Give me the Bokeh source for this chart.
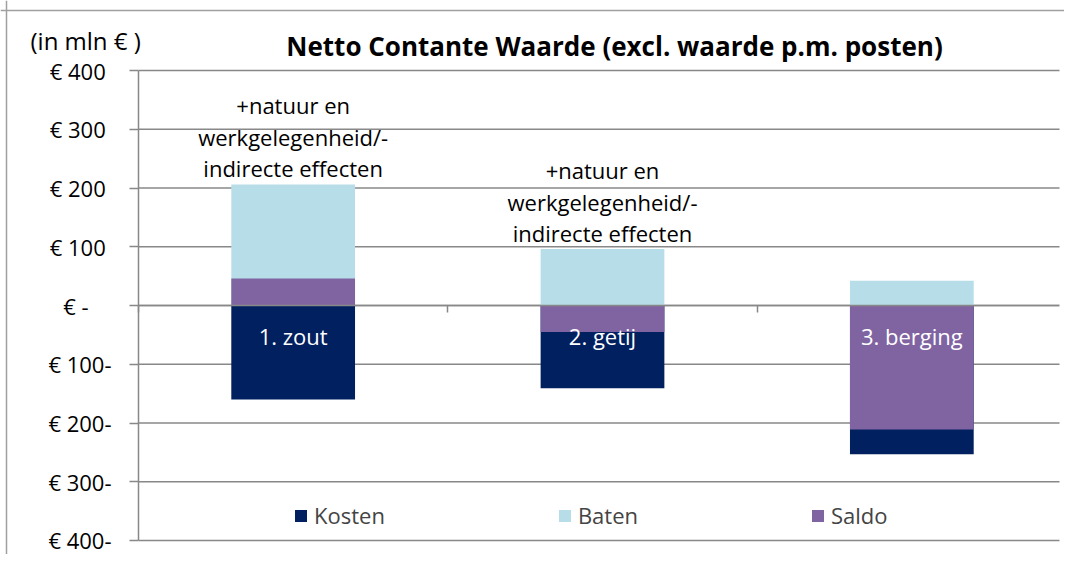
from bokeh.plotting import figure
from bokeh.models import (ColumnDataSource, Range1d, FixedTicker, Legend, LegendItem, Label, Span,
                          BoxAnnotation)
from bokeh.core.properties import value
from bokeh.embed import file_html
from bokeh.resources import INLINE

# ---- data ----
categories = ["1. zout", "2. getij", "3. berging"]
kosten = [-160, -141, -253]
baten = [206, 96, 42]
saldo = [46, -45, -211]
annotations = ["+natuur en\nwerkgelegenheid/-\nindirecte effecten",
               "+natuur en\nwerkgelegenheid/-\nindirecte effecten",
               ""]
y_ticks = [400, 300, 200, 100, 0, -100, -200, -300, -400]
y_tick_labels = ["€ 400\u00a0", "€ 300\u00a0", "€ 200\u00a0", "€ 100\u00a0", "€ -\u00a0\u00a0\u00a0\u00a0",
                 "€ 100-", "€ 200-", "€ 300-", "€ 400-"]
series_names = ["Kosten", "Baten", "Saldo"]
colors = ["#002060", "#B7DEE8", "#8064A2"]
title_text = "Netto Contante Waarde (excl. waarde p.m. posten)"
unit_text = "(in mln € )"

# ---- layout (pixels) ----
FONT = "Open Sans"
W, H = 1064, 554
PX_LEFT, PX_RIGHT, PX_TOP, PX_BOTTOM = 138, 1066, 70, 540
GRID = "#888888"
BORDER = "#a0a0a0"

n = len(categories)
ymin, ymax = min(y_ticks), max(y_ticks)
ppx = (PX_RIGHT - PX_LEFT) / n
ppy = (PX_BOTTOM - PX_TOP) / (ymax - ymin)
x_range = Range1d(-PX_LEFT / ppx, (W - PX_LEFT) / ppx)
y_range = Range1d(ymin - (H - PX_BOTTOM) / ppy, ymax + PX_TOP / ppy)

xs = [i + 0.5 for i in range(n)]
src = ColumnDataSource(dict(x=xs, cat=categories, kosten=kosten, baten=baten,
                            saldo=saldo, note=annotations))
grid_src = ColumnDataSource(dict(y=y_ticks, x0=[0] * len(y_ticks), x1=[n] * len(y_ticks)))

p = figure(width=W, height=H, output_backend="svg", toolbar_location=None,
           title_location=None, x_range=x_range, y_range=y_range,
           min_border_left=0, min_border_right=0, min_border_top=0, min_border_bottom=0)
p.outline_line_color = None
p.xgrid.grid_line_color = None
p.ygrid.grid_line_color = None

# horizontal gridlines (under the bars)
p.segment(x0="x0", x1="x1", y0="y", y1="y", source=grid_src,
          line_color=GRID, line_width=1.5)

# bars (overlapping, Saldo on top)
r_k = p.vbar(x="x", top="kosten", bottom=0, width=0.4, source=src,
             fill_color=colors[0], line_color=None)
r_b = p.vbar(x="x", top="baten", bottom=0, width=0.4, source=src,
             fill_color=colors[1], line_color=None)
r_s = p.vbar(x="x", top="saldo", bottom=0, width=0.4, source=src,
             fill_color=colors[2], line_color=None)

# category labels inside bars
p.text(x="x", y=0, text="cat", source=src, text_color="white",
       text_font=value(FONT), text_font_size="22px", text_align="center",
       text_baseline="middle", y_offset=30)
# notes above bars
p.text(x="x", y="baten", text="note", source=src, text_color="black",
       text_font=value(FONT), text_font_size="22px", text_align="center",
       text_baseline="bottom", y_offset=-1, text_line_height=1.05)

# y axis (drawn at x = 0)
p.yaxis.fixed_location = 0
p.yaxis.bounds = (ymin, ymax)
p.yaxis.ticker = FixedTicker(ticks=y_ticks)
p.yaxis.major_label_overrides = {t: l for t, l in zip(y_ticks, y_tick_labels)}
p.yaxis.major_label_text_font = FONT
p.yaxis.major_label_text_font_size = "22px"
p.yaxis.major_label_text_color = "black"
p.yaxis.major_tick_out = 9
p.yaxis.major_tick_in = 0
p.yaxis.minor_tick_line_color = None
p.yaxis.axis_line_color = GRID
p.yaxis.axis_line_width = 1.5
p.yaxis.major_tick_line_color = GRID
p.yaxis.major_tick_line_width = 1.5
p.yaxis.major_label_standoff = 18

# x axis at zero with category boundary ticks
p.xaxis.fixed_location = 0
p.xaxis.bounds = (0, n)
p.xaxis.ticker = FixedTicker(ticks=list(range(n + 1)))
p.xaxis.major_label_text_font_size = "0px"
p.xaxis.major_label_text_color = None
p.xaxis.major_tick_out = 7
p.xaxis.major_tick_in = 0
p.xaxis.minor_tick_line_color = None
p.xaxis.axis_line_color = GRID
p.xaxis.axis_line_width = 1.5
p.xaxis.major_tick_line_color = GRID
p.xaxis.major_tick_line_width = 1.5

# white strip at the far right edge of the canvas (hides a stray edge line)
p.add_layout(BoxAnnotation(left=W - 5, right=W, top=H - 12, bottom=0,
                           left_units="screen", right_units="screen",
                           top_units="screen", bottom_units="screen",
                           fill_color="white", fill_alpha=1, line_color=None,
                           level="overlay"))

# chart border: left and top edges
p.add_layout(Span(location=6, location_units="screen", dimension="height",
                  line_color=BORDER, line_width=1.5, level="overlay"))
p.add_layout(Span(location=H - 10, location_units="screen", dimension="width",
                  line_color=BORDER, line_width=1.5, level="overlay"))

# title and unit label
p.add_layout(Label(x=614, y=H - 45, x_units="screen", y_units="screen",
                   text=title_text, text_font=FONT, text_font_size="26px",
                   text_font_style="bold", text_color="black",
                   text_align="center", text_baseline="middle"))
p.add_layout(Label(x=30, y=H - 40, x_units="screen", y_units="screen",
                   text=unit_text, text_font=FONT, text_font_size="24px",
                   text_color="black", text_align="left", text_baseline="middle"))

# legend
legend = Legend(items=[LegendItem(label=series_names[0], renderers=[r_k]),
                       LegendItem(label=series_names[1], renderers=[r_b]),
                       LegendItem(label=series_names[2], renderers=[r_s])],
                location=(293, 24), orientation="horizontal", spacing=172,
                glyph_width=15, glyph_height=15, label_standoff=6, padding=0, margin=0,
                border_line_color=None, background_fill_alpha=0,
                label_text_font=FONT, label_text_font_size="22px", label_height=22)
p.add_layout(legend, "center")

open("out.html", "w").write(file_html(p, INLINE))
